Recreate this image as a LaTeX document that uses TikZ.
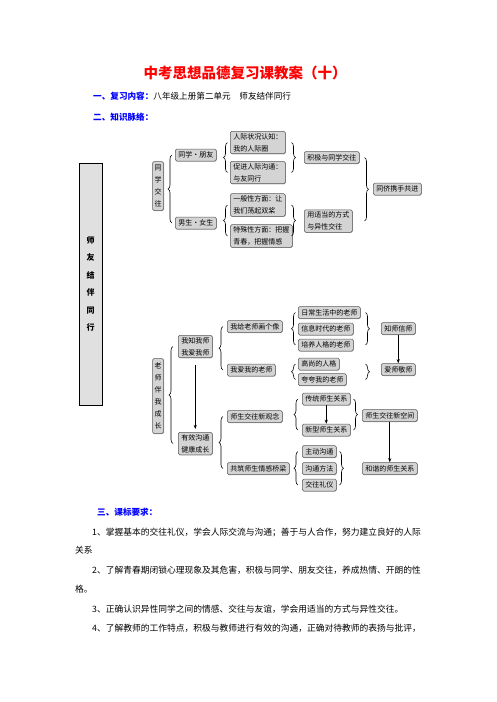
\documentclass[tikz,border=0pt]{standalone}
\usepackage{fontspec}
\setmainfont{Noto Sans CJK SC}
\usepackage{xcolor}
\usepackage{tikz}
\usetikzlibrary{arrows.meta,calc,decorations.pathreplacing,shadows}
\definecolor{titlered}{RGB}{255, 0, 0}
\definecolor{headblue}{RGB}{0, 0, 255}
\definecolor{boxgray}{RGB}{212, 212, 212}
\definecolor{edgegray}{RGB}{90, 90, 90}
\definecolor{sidegray}{RGB}{224, 224, 224}

\begin{document}
\begin{tikzpicture}[x=1pt,y=-1pt,
    box/.style={draw=edgegray,fill=boxgray,rounded corners=1.5pt,line width=0.5pt,
        font=\fontsize{7}{12}\selectfont,inner xsep=3pt,inner ysep=2pt,
        minimum height=12pt,align=left,anchor=west,
        drop shadow={shadow xshift=0.6pt,shadow yshift=-0.6pt,fill=black!50,opacity=0.6}},
    vbox/.style={box,align=center,anchor=center,inner xsep=2pt},
    grp/.style={decorate,decoration={brace,amplitude=4pt},line width=0.6pt},
    arr/.style={-{Stealth[length=4pt,width=3pt]},line width=0.6pt},
    body/.style={anchor=west,font=\fontsize{8.75}{10}\selectfont,inner sep=0pt}]
    \useasboundingbox[fill=white] (0,0) rectangle (496,702);

    % Heading
    \node[font=\fontsize{14.5}{16}\selectfont\bfseries,text=titlered] (title) at (245,73) {中考思想品德复习课教案（十）};
    \node[body,font=\fontsize{8.6}{10}\selectfont] (head1) at (93,96) {{\color{headblue}\bfseries 一、复习内容：}八年级上册第二单元　师友结伴同行};
    \node[body,font=\fontsize{8.6}{10}\selectfont\bfseries,text=headblue] (head2) at (93,117) {二、知识脉络：};

    % Unit box
    \node[draw=black,fill=sidegray,line width=0.6pt,minimum width=23pt,minimum height=242pt,
        align=center,font=\fontsize{8}{17.4}\selectfont\bfseries,inner sep=0pt] (side) at (90.5,284) {师\\友\\结\\伴\\同\\行};

    % Lesson 1: classmates
    \node[vbox,minimum height=49pt] (tx) at (158,186) {同\\学\\交\\往};
    \node[box] (tp) at (175,155) {同学·朋友};
    \node[box] (tg) at (175,223) {男生·女生};
    \node[box] (ta1) at (230,142.5) {人际状况认知：\\我的人际圈};
    \node[box] (ta2) at (230,172.5) {促进人际沟通：\\与友同行};
    \node[box] (ta3) at (304,157.5) {积极与同学交往};
    \node[box] (tb1) at (230,205) {一般性方面：让\\我们荡起双桨};
    \node[box] (tb2) at (230,236) {特殊性方面：把握\\青春，把握情感};
    \node[box] (tb3) at (304,221) {用适当的方式\\与异性交往};
    \node[box] (tend) at (373,189) {同侪携手共进};

    \draw[grp] ([xshift=-3pt]tg.west) -- ([xshift=-3pt]tp.west);
    \draw[grp] ([xshift=-2.5pt]ta2.west) -- ([xshift=-2.5pt]ta1.west);
    \draw[grp] ([xshift=6pt]ta1.east) -- ([xshift=6pt]ta2.east);
    \draw[grp] ([xshift=-2.5pt]tb2.west) -- ([xshift=-2.5pt]tb1.west);
    \draw[grp] ($(ta1.east |- tb1.east)+(6,0)$) -- ($(ta1.east |- tb2.east)+(6,0)$);
    \draw[grp] ([xshift=5pt]ta3.east) -- ($(ta3.east |- tb3.east)+(5,0)$);

    % Lesson 2: teachers
    \node[vbox,minimum height=75pt] (bx) at (158,396) {老\\师\\伴\\我\\成\\长};
    \node[box,align=center] (bk) at (178,346.5) {我知我师\\我爱我师};
    \node[box,align=center] (be) at (178,443.5) {有效沟通\\健康成长};
    \node[box] (b1) at (227,326.5) {我给老师画个像};
    \node[box] (b2) at (227,370) {我爱我的老师};
    \node[box] (b3) at (227,416.5) {师生交往新观念};
    \node[box] (b4) at (227,468.5) {共筑师生情感桥梁};
    \node[box] (c1) at (298,312.5) {日常生活中的老师};
    \node[box] (c2) at (298,329) {信息时代的老师};
    \node[box] (c3) at (298,345) {培养人格的老师};
    \node[box] (c4) at (381,328.5) {知师信师};
    \node[box] (c5) at (381,369.5) {爱师敬师};
    \node[box] (d1) at (298,364) {高尚的人格};
    \node[box] (d2) at (298,379.5) {夸夸我的老师};
    \node[box] (e1) at (302,399) {传统师生关系};
    \node[box] (e2) at (302,430) {新型师生关系};
    \node[box] (e3) at (362,415.5) {师生交往新空间};
    \node[box] (e4) at (362,468.5) {和谐的师生关系};
    \node[box] (f1) at (302,451.5) {主动沟通};
    \node[box] (f2) at (302,468.5) {沟通方法};
    \node[box] (f3) at (302,485) {交往礼仪};

    \draw[grp] ([xshift=-5pt]be.west) -- ([xshift=-5pt]bk.west);
    \draw[grp] ([xshift=-4pt]b2.west) -- ([xshift=-4pt]b1.west);
    \draw[grp] ([xshift=-4pt]b4.west) -- ([xshift=-4pt]b3.west);
    \draw[grp] ([xshift=-2.5pt]c3.west) -- ([xshift=-2.5pt]c1.west);
    \draw[grp] ([xshift=5pt]c1.east) -- ($(c1.east |- c3.east)+(5,0)$);
    \draw[grp] ([xshift=-2.5pt]d2.west) -- ([xshift=-2.5pt]d1.west);
    \draw[grp] ($(c1.east |- d1.east)+(5,0)$) -- ($(c1.east |- d2.east)+(5,0)$);
    \draw[grp] ([xshift=-4pt]e2.west) -- ([xshift=-4pt]e1.west);
    \draw[grp] ([xshift=3pt]e1.east) -- ([xshift=3pt]e2.east);
    \draw[grp] ([xshift=-4pt]f3.west) -- ([xshift=-4pt]f1.west);
    \draw[grp] ([xshift=3pt]f1.east) -- ([xshift=3pt]f3.east);

    \draw[arr] ([yshift=-7pt]bk.south) -- ([yshift=3pt]be.north);
    \draw[arr] (c4) -- (c5);
    \draw[arr] (e1) -- (e2);
    \draw[arr] (e3) -- (e4);

    % Requirements
    \node[body,font=\fontsize{8.6}{10}\selectfont\bfseries,text=headblue] (head3) at (97,512) {三、课标要求：};
    \node[body] (req1) at (92,532) {1、掌握基本的交往礼仪，学会人际交流与沟通；善于与人合作，努力建立良好的人际};
    \node[body] (req1b) at (75,550) {关系};
    \node[body] (req2) at (92,570) {2、了解青春期闭锁心理现象及其危害，积极与同学、朋友交往，养成热情、开朗的性};
    \node[body] (req2b) at (75,589) {格。};
    \node[body] (req3) at (92,609) {3、正确认识异性同学之间的情感、交往与友谊，学会用适当的方式与异性交往。};
    \node[body] (req4) at (92,628) {4、了解教师的工作特点，积极与教师进行有效的沟通，正确对待教师的表扬与批评，};
\end{tikzpicture}
\end{document}
